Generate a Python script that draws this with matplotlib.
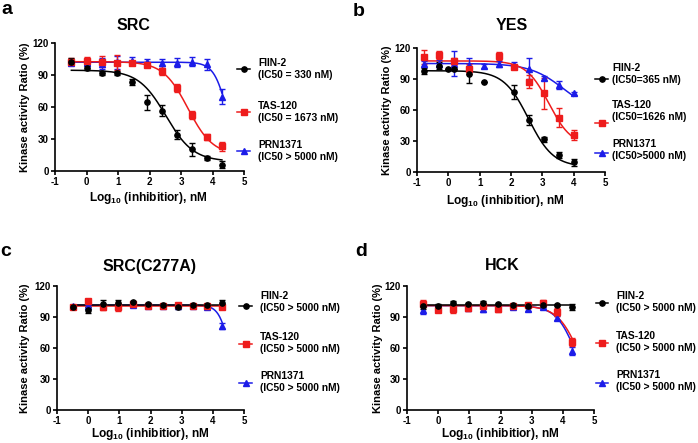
import numpy as np
import matplotlib
matplotlib.use("Agg")
import matplotlib.pyplot as plt
from matplotlib.lines import Line2D

plt.rcParams['font.family'] = ['Liberation Sans', 'DejaVu Sans']
plt.rcParams['font.weight'] = 'bold'
plt.rcParams['mathtext.fontset'] = 'custom'
plt.rcParams['mathtext.rm'] = 'Liberation Sans:bold'
plt.rcParams['mathtext.bf'] = 'Liberation Sans:bold'
plt.rcParams['axes.unicode_minus'] = False

# ---- data (log10 nM, % activity) ----
x_a = [-0.48, 0.0, 0.48, 0.96, 1.43, 1.91, 2.39, 2.87, 3.35, 3.82, 4.30]

fiin_a = [102.5, 97, 92, 92, 83.5, 64.5, 56.5, 34, 20.5, 12.5, 6]
fiin_a_err = [3, 2, 2, 2, 2.5, 7, 5, 4, 6, 2, 3]
tas_a = [102.5, 103, 102.5, 101.5, 101.5, 99.5, 94, 78, 52.5, 32, 23]
tas_a_err = [3, 4, 5, 7, 2, 2, 4, 4, 4, 3, 4]
prn_a = [101.5, 101.5, 100.5, 102, 103, 102, 101, 101.5, 102.5, 100, 69.5]
prn_a_err = [2, 3, 5, 6, 4, 3, 4, 4, 4, 5, 7]

x_b_fiin = [-0.77, -0.29, 0.0, 0.19, 0.66, 1.14, 2.09, 2.57, 3.05, 3.52, 4.00]
fiin_b = [97.8, 103, 100, 100, 94.5, 87, 77.5, 50.5, 31.5, 16.5, 9.5]
fiin_b_err = [2.5, 3, 0, 0, 8, 0, 7, 5, 2.5, 3, 3.5]
x_b_tas = [-0.77, -0.29, 0.19, 0.66, 1.62, 2.09, 2.57, 3.05, 3.52, 4.00]
tas_b = [111.5, 113, 107, 100, 112.5, 101.5, 87.5, 76, 52.5, 36]
tas_b_err = [7, 4, 3, 5, 4, 2, 6, 15, 9, 5]
x_b_prn = [-0.77, -0.29, 0.19, 0.66, 1.14, 1.62, 2.09, 2.57, 3.05, 3.52, 4.00]
prn_b = [104.5, 105, 105, 103.5, 102.5, 104.5, 104, 100, 91, 84, 76]
prn_b_err = [3, 3, 12, 7, 2, 3, 2, 10, 2, 4, 1]

fiin_c = [99.7, 97, 103, 103.5, 104.5, 103, 102, 99.5, 101.5, 101.5, 103.5]
fiin_c_err = [1.5, 3, 3, 3, 1, 1, 1, 1.5, 1.5, 1, 3]
tas_c = [99.7, 105.5, 100, 100, 102.3, 100.3, 100.3, 101.3, 100.3, 100.3, 99.7]
tas_c_err = [1, 2, 3, 4, 1, 1.5, 1.5, 2, 1, 1, 1.5]
prn_c = [101, 101, 101.5, 101, 101.5, 101, 101, 101, 100.5, 100, 81]
prn_c_err = [1, 1, 1, 1, 1, 1, 1, 1, 1, 1, 3]

fiin_d = [100.3, 100.3, 103.6, 103, 103.6, 103, 102, 100.3, 101.3, 101.3, 99.7]
fiin_d_err = [3, 2, 2, 1, 2, 1, 1, 1.5, 1.5, 1, 3]
tas_d = [103, 96.5, 98, 99, 101, 98, 100.3, 101.3, 103.6, 94.8, 65.7]
tas_d_err = [3, 2, 4, 3, 2, 3, 2, 2, 3, 4, 4]
prn_d = [97, 100, 100, 99, 98, 99, 100, 97.5, 100, 89.3, 57]
prn_d_err = [4, 1, 1, 1, 3, 1, 1, 2, 1, 2, 4]

# fitted 4PL parameters: top, bottom, logIC50, hill
fit_a = {"FIIN-2": (94.5, 9, 2.52, 1.0), "TAS-120": (102.5, 15, 3.22, 1.1), "PRN1371": (102, 0, 4.5, 2.0)}
fit_b = {"FIIN-2": (98, 5, 2.56, 1.1), "TAS-120": (107.5, 25, 3.21, 1.2), "PRN1371": (105, 55, 3.7, 0.8)}
fit_c = {"FIIN-2": (101.5, 101.5, 3.0, 1.0), "TAS-120": (101, 101, 3.0, 1.0), "PRN1371": (101.5, 0, 4.58, 2.5)}
fit_d = {"FIIN-2": (101.5, 101.5, 3.0, 1.0), "TAS-120": (101, 0, 4.58, 1.2), "PRN1371": (101, 0, 4.48, 1.31)}

labels_a = ["FIIN-2\n(IC50 = 330 nM)", "TAS-120\n(IC50 = 1673 nM)", "PRN1371\n(IC50 > 5000 nM)"]
labels_b = ["FIIN-2\n(IC50=365 nM)", "TAS-120\n(IC50=1626 nM)", "PRN1371\n(IC50>5000 nM)"]
labels_cd = ["FIIN-2\n(IC50 > 5000 nM)", "TAS-120\n(IC50 > 5000 nM)", "PRN1371\n(IC50 > 5000 nM)"]

RED = '#ee1c1c'
BLUE = '#1c1ce8'
style = {"FIIN-2": ('black', 'o'), "TAS-120": (RED, 's'), "PRN1371": (BLUE, '^')}

W, H = 698, 443
fig = plt.figure(figsize=(W / 100, H / 100), dpi=100)


def fx(x):
    return x / W


def fy(y):
    return 1 - y / H


def four_pl(x, top, bottom, logic50, hill):
    return bottom + (top - bottom) / (1 + 10 ** ((x - logic50) * hill))


def panel(box, series, fits, letter, letter_xy, title, title_xy, ylab_x, xlab_xy, legend):
    l, t, r, b = box
    ax = fig.add_axes([fx(l), fy(b), fx(r - l), (b - t) / H])
    # curves first (blue under red under black)
    for name in ["PRN1371", "TAS-120", "FIIN-2"]:
        xs, ys, es = series[name]
        col, mk = style[name]
        xx = np.linspace(min(xs), max(xs), 300)
        ax.plot(xx, four_pl(xx, *fits[name]), color=col, lw=1.1, zorder=2)
    for name in ["PRN1371", "TAS-120", "FIIN-2"]:
        xs, ys, es = series[name]
        col, mk = style[name]
        ax.errorbar(xs, ys, yerr=es, fmt=mk, color=col, ms=3.8, elinewidth=1.0,
                    capsize=2, capthick=1.0, zorder=3)
    ax.set_xlim(-1, 5)
    ax.set_ylim(0, 120)
    ax.set_xticks(range(-1, 6))
    ax.set_yticks([0, 30, 60, 90, 120])
    for s in ['top', 'right']:
        ax.spines[s].set_visible(False)
    for s in ['left', 'bottom']:
        ax.spines[s].set_linewidth(1.2)
    ax.tick_params(width=1.2, length=3, labelsize=7, pad=1.5)
    for lab in ax.get_xticklabels() + ax.get_yticklabels():
        lab.set_fontweight('bold')

    fig.text(fx(letter_xy[0]), fy(letter_xy[1]), letter, fontsize=14, fontweight='bold',
             ha='center', va='center')
    fig.text(fx(title_xy[0]), fy(title_xy[1]), title, fontsize=11.5, fontweight='bold',
             ha='center', va='center')
    fig.text(fx(ylab_x), fy((t + b) / 2), 'Kinase activity Ratio (%)', fontsize=8,
             fontweight='bold', rotation=90, ha='center', va='center')
    fig.text(fx(xlab_xy[0]), fy(xlab_xy[1]), r'Log$_{10}$ (inhibitior), nM', fontsize=8.6,
             fontweight='bold', ha='center', va='center')

    hx0, hx1, tx, entries = legend
    for name, lab, (hy, ty) in zip(["FIIN-2", "TAS-120", "PRN1371"], series["labels"], entries):
        col, mk = style[name]
        fig.add_artist(Line2D([fx(hx0), fx((hx0 + hx1) / 2), fx(hx1)], [fy(hy)] * 3,
                              transform=fig.transFigure, color=col, lw=1.1, marker=mk,
                              ms=3.8, markevery=[1]))
        fig.text(fx(tx), fy(ty), lab, fontsize=7.4, fontweight='bold', ha='left', va='center',
                 linespacing=1.35)
    return ax


panel((55, 43, 244, 171),
      {"FIIN-2": (x_a, fiin_a, fiin_a_err), "TAS-120": (x_a, tas_a, tas_a_err),
       "PRN1371": (x_a, prn_a, prn_a_err), "labels": labels_a},
      fit_a, 'a', (7, 10), 'SRC', (133, 25), 25, (148, 198),
      (237, 250, 258, [(69, 69), (112, 112), (151, 151)]))

panel((417, 48, 605, 172),
      {"FIIN-2": (x_b_fiin, fiin_b, fiin_b_err), "TAS-120": (x_b_tas, tas_b, tas_b_err),
       "PRN1371": (x_b_prn, prn_b, prn_b_err), "labels": labels_b},
      fit_b, 'b', (359, 11), 'YES', (512, 25), 387, (505, 201),
      (595, 608, 612, [(79, 74), (123, 111), (153, 150)]))

panel((57, 286, 244, 410),
      {"FIIN-2": (x_a, fiin_c, fiin_c_err), "TAS-120": (x_a, tas_c, tas_c_err),
       "PRN1371": (x_a, prn_c, prn_c_err), "labels": labels_cd},
      fit_c, 'c', (6, 252), 'SRC(C277A)', (150, 267), 25, (150, 434),
      (239, 252, 260, [(306, 302), (344, 343), (383, 382)]))

panel((407, 286, 594, 410),
      {"FIIN-2": (x_a, fiin_d, fiin_d_err), "TAS-120": (x_a, tas_d, tas_d_err),
       "PRN1371": (x_a, prn_d, prn_d_err), "labels": labels_cd},
      fit_d, 'd', (361, 252), 'HCK', (502, 265), 378, (500, 434),
      (596, 608, 616, [(303, 302), (343, 342), (383, 381)]))

fig.savefig('out.png', dpi=100)
